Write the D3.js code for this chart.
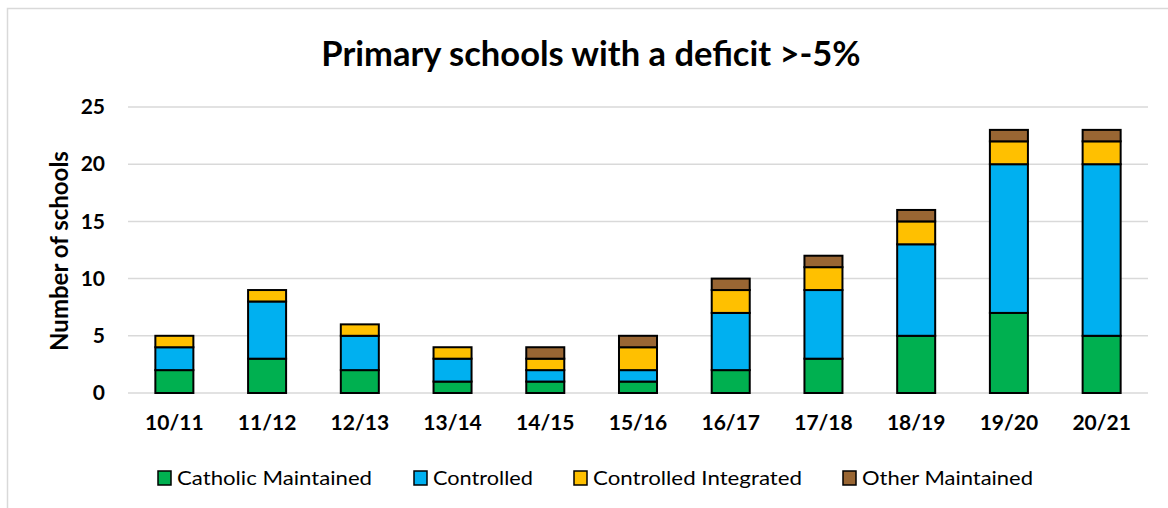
<!DOCTYPE html>
<html>
<head>
<meta charset="utf-8">
<script src="https://cdn.jsdelivr.net/npm/d3@7"></script>
<style>
  body { margin: 0; background: #fff; }
  text { font-family: "Lato", "Open Sans", sans-serif; }
</style>
</head>
<body>
<div class="chart"></div>
<script>
// chart data
var years = ["10/11", "11/12", "12/13", "13/14", "14/15", "15/16", "16/17", "17/18", "18/19", "19/20", "20/21"];
var seriesNames = ["Catholic Maintained", "Controlled", "Controlled Integrated", "Other Maintained"];
var catholic = [2, 3, 2, 1, 1, 1, 2, 3, 5, 7, 5];
var controlled = [2, 5, 3, 2, 1, 1, 5, 6, 8, 13, 15];
var integrated = [1, 1, 1, 1, 1, 2, 2, 2, 2, 2, 2];
var other = [0, 0, 0, 0, 1, 1, 1, 1, 1, 1, 1];
var yTicks = [0, 5, 10, 15, 20, 25];

var colors = ["#00B050", "#00B0F0", "#FFC000", "#996633"];

var svgWidth = 1168;
var svgHeight = 508;

var margin = { top: 107, right: 20, bottom: 115, left: 128 };
var width = 1148 - margin.left;
var height = 393 - margin.top;

var svg = d3.select(".chart")
  .append("svg")
  .attr("width", svgWidth)
  .attr("height", svgHeight);

// outer chart border (cropped on right and bottom)
svg.append("rect")
  .attr("x", 7.5)
  .attr("y", 8.5)
  .attr("width", 1200)
  .attr("height", 600)
  .attr("fill", "none")
  .attr("stroke", "#d9d9d9")
  .attr("stroke-width", 1.5);

// title
svg.append("text")
  .attr("x", 591)
  .attr("y", 66)
  .attr("text-anchor", "middle")
  .attr("font-weight", "bold")
  .attr("font-size", "34.5px")
  .attr("fill", "#000")
  .text("Primary schools with a deficit >-5%");

var chartGroup = svg.append("g")
  .attr("transform", `translate(${margin.left}, ${margin.top})`);

// build table for the stack
var table = years.map(function(y, i) {
  return {
    year: y,
    "Catholic Maintained": catholic[i],
    "Controlled": controlled[i],
    "Controlled Integrated": integrated[i],
    "Other Maintained": other[i]
  };
});

var stacked = d3.stack().keys(seriesNames)(table);

var xScale = d3.scaleBand()
  .domain(years)
  .range([0, width])
  .paddingInner(0.59)
  .paddingOuter(0.295);

var yScale = d3.scaleLinear()
  .domain([0, 25])
  .range([height, 0]);

// gridlines
chartGroup.selectAll(".grid")
  .data(yTicks)
  .enter()
  .append("line")
  .attr("x1", 0)
  .attr("x2", width)
  .attr("y1", d => yScale(d))
  .attr("y2", d => yScale(d))
  .attr("stroke", "#d9d9d9")
  .attr("stroke-width", 1.5);

// y axis labels
var leftAxis = d3.axisLeft(yScale).tickValues(yTicks).tickSize(0).tickPadding(23);
var yAxisG = chartGroup.append("g").call(leftAxis);
yAxisG.select(".domain").remove();
yAxisG.selectAll("text")
  .attr("font-family", "Lato, sans-serif")
  .attr("font-size", "21px")
  .attr("font-weight", "bold")
  .attr("fill", "#000");

// x axis labels
var bottomAxis = d3.axisBottom(xScale).tickSize(0).tickPadding(22);
var xAxisG = chartGroup.append("g")
  .attr("transform", `translate(0, ${height})`)
  .call(bottomAxis);
xAxisG.select(".domain").remove();
xAxisG.selectAll("text")
  .attr("font-family", "Lato, sans-serif")
  .attr("font-size", "21px")
  .attr("font-weight", "bold")
  .attr("fill", "#000");

// bars
var layers = chartGroup.selectAll(".layer")
  .data(stacked)
  .enter()
  .append("g")
  .attr("fill", (d, i) => colors[i]);

layers.selectAll("rect")
  .data(d => d.filter(p => p[1] - p[0] > 0))
  .enter()
  .append("rect")
  .attr("x", d => xScale(d.data.year))
  .attr("y", d => yScale(d[1]))
  .attr("width", xScale.bandwidth())
  .attr("height", d => yScale(d[0]) - yScale(d[1]))
  .attr("stroke", "#000")
  .attr("stroke-width", 2);

// y axis title
svg.append("text")
  .attr("transform", "rotate(-90)")
  .attr("x", -251)
  .attr("y", 68)
  .attr("text-anchor", "middle")
  .attr("font-weight", "bold")
  .attr("font-size", "24px")
  .attr("fill", "#000")
  .text("Number of schools");

// legend
var legendX = [157, 413, 573, 842];
var legendLen = [195, 100, 209, 171];
var legend = svg.selectAll(".legend")
  .data(seriesNames)
  .enter()
  .append("g")
  .attr("transform", (d, i) => `translate(${legendX[i]}, 478)`);

legend.append("rect")
  .attr("x", 1)
  .attr("y", -7)
  .attr("width", 13)
  .attr("height", 14)
  .attr("fill", (d, i) => colors[i])
  .attr("stroke", "#000")
  .attr("stroke-width", 1.5);

legend.append("text")
  .attr("x", 20)
  .attr("y", 0)
  .attr("dy", "0.35em")
  .attr("font-size", "20px")
  .attr("textLength", (d, i) => legendLen[i])
  .attr("lengthAdjust", "spacingAndGlyphs")
  .attr("fill", "#000")
  .text(d => d);
</script>
</body>
</html>
